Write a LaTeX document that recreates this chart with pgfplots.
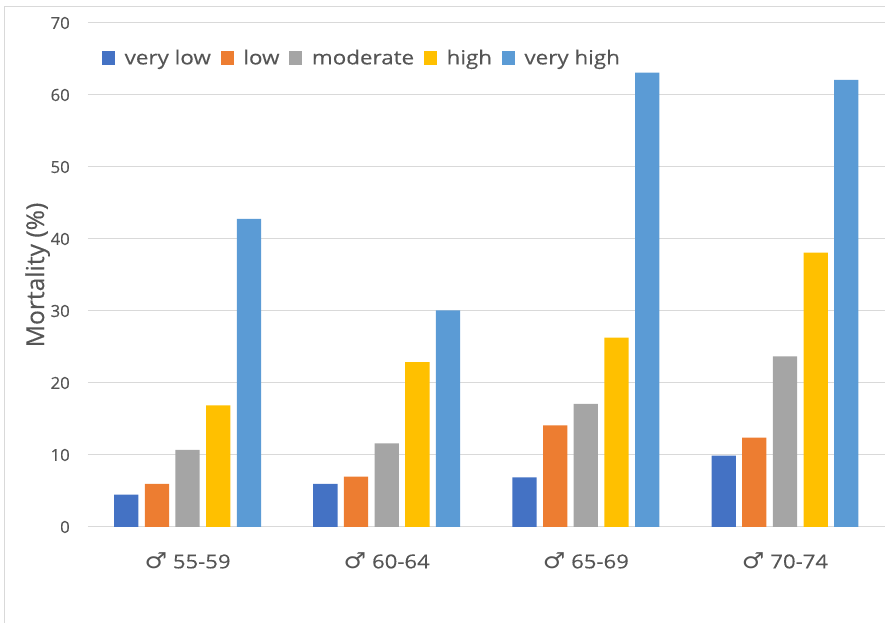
\documentclass[border=0pt]{standalone}
\usepackage{fontspec}
\setmainfont{Open Sans}[FakeBold=0.3]
\newfontfamily\widefont{Open Sans}[FakeStretch=1.15, FakeBold=0.3]
\newfontfamily\symfont{DejaVu Sans}[FakeStretch=1.15]
\usepackage{pgfplots}
\pgfplotsset{compat=1.18}

\definecolor{vlow}{HTML}{4472C4}
\definecolor{low}{HTML}{ED7D31}
\definecolor{moderate}{HTML}{A5A5A5}
\definecolor{high}{HTML}{FFC000}
\definecolor{vhigh}{HTML}{5B9BD5}
\definecolor{textgray}{HTML}{555555}
\definecolor{gridgray}{HTML}{D9D9D9}

\newcommand{\male}{{\symfont\fontsize{16.5}{18}\selectfont ♂}}

\begin{document}
\begin{tikzpicture}
\useasboundingbox (0,0) rectangle (663.75pt,467.25pt);
% outer chart frame
\draw[gridgray, line width=0.75pt] (3.5pt,-10pt) -- (3.5pt,462.2pt) -- (680pt,462.2pt);
\begin{axis}[
  at={(66pt,72pt)}, anchor=south west,
  scale only axis, width=597.4pt, height=378pt,
  xmin=-0.5, xmax=3.5, ymin=0, ymax=70,
  ybar=4.8pt, bar width=18.2pt,
  xtick={0,1,2,3},
  xticklabels={\male\ 55-59, \male\ 60-64, \male\ 65-69, \male\ 70-74},
  ytick={0,10,...,70},
  ymajorgrids, grid style={gridgray, line width=0.75pt},
  axis line style={draw=none},
  tick style={draw=none},
  major tick length=0pt,
  /pgf/number format/assume math mode=true,
  ticklabel style={text=textgray},
  yticklabel style={font=\fontsize{12.5}{14}\selectfont, anchor=east, inner sep=0pt, xshift=-13.5pt},
  xticklabel style={font=\widefont\fontsize{14.4}{16}\selectfont, anchor=base, inner sep=0pt, yshift=-31pt},
  ylabel={Mortality (\%)},
  ylabel style={at={(axis description cs:-0.0552,0.5)}, anchor=base, rotate=0,
    font=\fontsize{18.5}{20}\selectfont, text=textgray, inner sep=0pt},
  legend columns=5,
  legend style={at={(axis description cs:0.0172,0.9306)}, anchor=west,
    draw=none, fill=none, inner sep=0pt, column sep=7.3pt,
    font=\widefont\fontsize{14.6}{17}\selectfont, text=textgray,
    nodes={inner sep=0pt}},
  legend image code/.code={\fill[#1] (0pt,-4.9pt) rectangle (9.75pt,4.9pt);},
]
\addplot[fill=vlow, draw=none] coordinates {(0,4.5) (1,6.0) (2,6.9) (3,9.9)};
\addplot[fill=low, draw=none] coordinates {(0,6.0) (1,7.0) (2,14.1) (3,12.4)};
\addplot[fill=moderate, draw=none] coordinates {(0,10.7) (1,11.6) (2,17.1) (3,23.7)};
\addplot[fill=high, draw=none] coordinates {(0,16.9) (1,22.9) (2,26.3) (3,38.1)};
\addplot[fill=vhigh, draw=none] coordinates {(0,42.8) (1,30.1) (2,63.1) (3,62.1)};
\legend{very low, low, moderate, high, very high}
\end{axis}
\end{tikzpicture}
\end{document}
